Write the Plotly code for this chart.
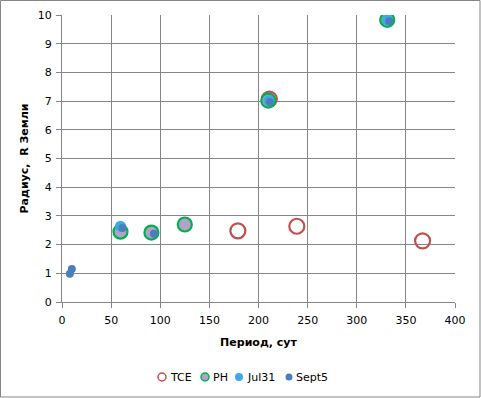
import plotly.graph_objects as go

# TCE
tce_x = [179, 211, 239, 367]
tce_y = [2.48, 7.07, 2.64, 2.13]
# PH
ph_x = [59.5, 91, 125, 210, 331]
ph_y = [2.45, 2.42, 2.70, 7.02, 9.83]
# Jul31
jul_x = [59.5, 210.5, 331]
jul_y = [2.64, 7.02, 9.83]
# Sept5
sep_x = [8, 10, 61.5, 93.5, 211.5, 333]
sep_y = [0.98, 1.15, 2.58, 2.38, 6.97, 9.78]

x_ticks = [0, 50, 100, 150, 200, 250, 300, 350, 400]
y_ticks = [0, 1, 2, 3, 4, 5, 6, 7, 8, 9, 10]

series_names = ["TCE", "PH", "Jul31", "Sept5"]

FONT = "DejaVu Sans"
W, H = 481, 398
L, R, T, B = 62, 26, 15, 96
PW, PH_ = W - L - R, H - T - B

styles = {
    "TCE": dict(fill="rgba(255,255,255,0)", line="#c0504d", lw=2.2, size=15),
    "PH": dict(fill="#b3a2c7", line="#00b050", lw=2.2, size=14),
    "Jul31": dict(fill="#3eaae2", line="#3eaae2", lw=0, size=11),
    "Sept5": dict(fill="#4a7ebb", line="#4a7ebb", lw=0, size=8),
}
data = {"TCE": (tce_x, tce_y), "PH": (ph_x, ph_y), "Jul31": (jul_x, jul_y), "Sept5": (sep_x, sep_y)}

fig = go.Figure()
for n in series_names:
    s = styles[n]
    xs, ys = data[n]
    fig.add_trace(go.Scatter(x=xs, y=ys, mode="markers", name=n, showlegend=False,
                             marker=dict(size=s["size"], color=s["fill"],
                                         line=dict(color=s["line"], width=s["lw"]))))

axis_common = dict(showgrid=True, gridcolor="#868686", gridwidth=1,
                   showline=True, linecolor="#868686", linewidth=1,
                   ticks="outside", ticklen=5, tickcolor="#868686",
                   zeroline=False, tickfont=dict(family=FONT, size=11, color="black"))

fig.update_xaxes(range=[0, 400], tickvals=x_ticks, ticklabelstandoff=3,
                 title=dict(text="<b>Период, сут</b>", font=dict(family=FONT, size=11, color="black"), standoff=12),
                 **axis_common)
fig.update_yaxes(range=[0, 10], tickvals=y_ticks, ticklabelstandoff=2,
                 title=dict(text="<b>Радиус,  R Земли</b>", font=dict(family=FONT, size=11, color="black"), standoff=6),
                 **axis_common)

def px2x(px):
    return (px - L) / PW

def py2y(py):
    return (H - B - py) / PH_

# custom legend (compact, like the reference)
leg_sym_px = [162, 205, 239, 289]
leg_txt_px = [168, 210.5, 244.5, 293.5]
leg_py = 377
shapes = [dict(type="rect", xref="paper", yref="paper",
               x0=px2x(0.5), x1=px2x(W - 1), y0=py2y(H - 1), y1=py2y(0.5),
               line=dict(color="#868686", width=1), fillcolor="rgba(0,0,0,0)", layer="below")]
annotations = []
leg_sizes = {"TCE": 8, "PH": 8, "Jul31": 8, "Sept5": 7}
for n, sx, tx in zip(series_names, leg_sym_px, leg_txt_px):
    s = styles[n]
    r = leg_sizes[n] / 2
    shapes.append(dict(type="circle", xref="paper", yref="paper",
                       xsizemode="pixel", ysizemode="pixel",
                       xanchor=px2x(sx), yanchor=py2y(leg_py),
                       x0=-r, x1=r, y0=-r, y1=r,
                       fillcolor=s["fill"] if n != "TCE" else "white",
                       line=dict(color=s["line"], width=1.5 if s["lw"] else 0)))
    annotations.append(dict(text=n, xref="paper", yref="paper", x=px2x(tx), y=py2y(leg_py),
                            xanchor="left", yanchor="middle", showarrow=False,
                            font=dict(family=FONT, size=11, color="black")))

fig.update_layout(
    width=W, height=H,
    margin=dict(l=L, r=R, t=T, b=B, autoexpand=False),
    plot_bgcolor="white", paper_bgcolor="white",
    font=dict(family=FONT, size=11, color="black"),
    showlegend=False,
    hovermode=False,
    shapes=shapes,
    annotations=annotations,
)

fig.write_html("out.html", config={"displayModeBar": False, "staticPlot": True},
               post_script="document.body.style.margin='0';document.body.style.overflow='hidden';")
